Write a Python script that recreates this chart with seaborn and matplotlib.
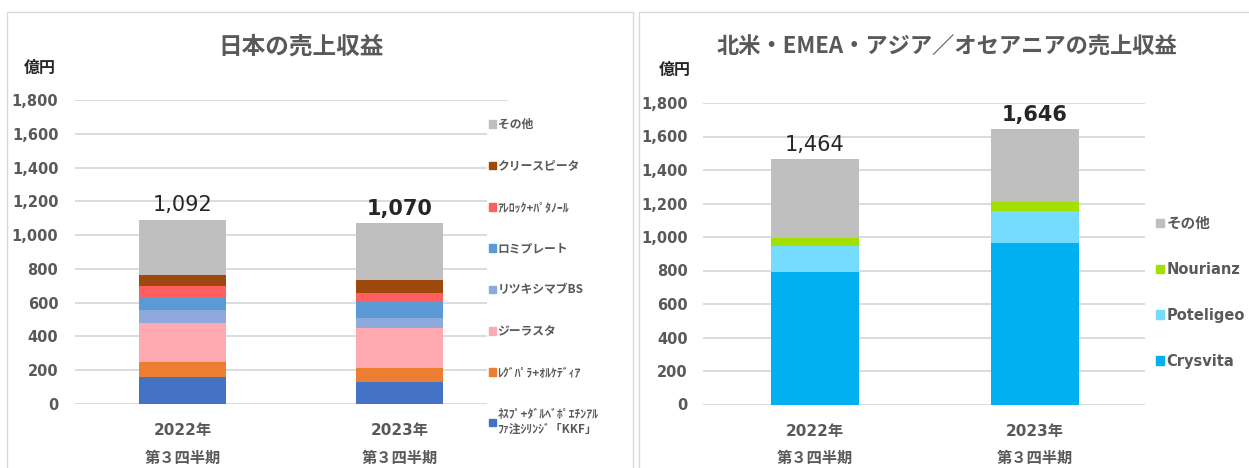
import matplotlib
matplotlib.use("Agg")
import matplotlib.pyplot as plt
import numpy as np
import pandas as pd
import seaborn as sns
from matplotlib.patches import Rectangle, Patch

# data
periods = ["2022年\n第３四半期", "2023年\n第３四半期"]

jp_products = ["ﾈｽﾌﾟ+ﾀﾞﾙﾍﾞﾎﾟｴﾁﾝｱﾙ\nﾌｧ注ｼﾘﾝｼﾞ「KKF」", "ﾚｸﾞﾊﾟﾗ+ｵﾙｹﾃﾞｨｱ", "ジーラスタ",
               "リツキシマブBS", "ロミプレート", "ｱﾚﾛｯｸ+ﾊﾟﾀﾉｰﾙ", "クリースピータ", "その他"]
jp_2022 = [158, 92, 228, 78, 73, 70, 65, 328]
jp_2023 = [128, 87, 237, 59, 91, 57, 75, 336]
jp_totals = [1092, 1070]
jp_colors = ["#4472C4", "#ED7D31", "#FFA9B0", "#8EA9DB", "#5B9BD5", "#FF5F5F", "#9E480E", "#BFBFBF"]

ov_products = ["Crysvita", "Poteligeo", "Nourianz", "その他"]
ov_2022 = [793, 155, 48, 468]
ov_2023 = [962, 193, 56, 435]
ov_totals = [1464, 1646]
ov_colors = ["#00B0F0", "#75DBFF", "#A2E000", "#BFBFBF"]

sns.set_theme(style="white")
plt.rcParams['font.family'] = ['DejaVu Sans', 'Noto Sans CJK JP']
CJK = ['Noto Sans CJK JP', 'DejaVu Sans']
GREY = "#595959"

fig = plt.figure(figsize=(12.49, 4.68), dpi=100)
W, H = 1249.0, 468.0


def px(x0, y0, x1, y1):
    # pixel box -> figure fraction rect
    return [x0 / W, 1 - y1 / H, (x1 - x0) / W, (y1 - y0) / H]


def draw_panel(ax, products, v22, v23, colors, totals, ypad):
    df = pd.DataFrame({"period": np.repeat(periods, len(products)),
                       "product": products * 2,
                       "value": v22 + v23})
    df["top"] = df.groupby("period")["value"].cumsum()
    # tallest first, then smaller ones over it -> stacked look
    for prod, col in reversed(list(zip(products, colors))):
        sns.barplot(data=df[df["product"] == prod], x="period", y="top", order=periods,
                    color=col, width=0.4, saturation=1, errorbar=None, linewidth=0, ax=ax)
    for i, t in enumerate(totals):
        ax.annotate(f"{t:,}", (i, t), xytext=(0, 3), textcoords="offset points",
                    ha="center", va="bottom", fontsize=15, color="#262626",
                    fontweight="bold" if i == 1 else "normal")
    ax.set_ylim(0, 1800)
    ax.set_yticks(range(0, 1801, 200))
    ax.set_yticklabels([f"{v:,}" for v in range(0, 1801, 200)], fontsize=10.5,
                       fontweight="bold", color=GREY)
    ax.set_xticks([0, 1])
    ax.set_xticklabels(periods, fontsize=11, fontweight="bold", color=GREY, linespacing=2.0)
    ax.set_xlabel("")
    ax.set_ylabel("")
    ax.grid(axis="y", color="#D9D9D9", linewidth=1.3)
    ax.set_axisbelow(True)
    for s in ax.spines.values():
        s.set_visible(False)
    ax.tick_params(axis="y", length=0, pad=ypad)
    ax.tick_params(axis="x", length=0, pad=14)


# left panel: Japan
ax1 = fig.add_axes(px(75, 100, 508, 404))
draw_panel(ax1, jp_products, jp_2022, jp_2023, jp_colors, jp_totals, 12)
ax1.set_xlim(-0.495, 1.5)

# right panel: overseas
ax2 = fig.add_axes(px(703, 103, 1145, 404.5))
draw_panel(ax2, ov_products, ov_2022, ov_2023, ov_colors, ov_totals, 11)
ax2.set_xlim(-0.507, 1.502)

# legends
h1 = [Patch(color=c, label=l) for l, c in zip(jp_products, jp_colors)][::-1]
leg1 = fig.legend(handles=h1, loc="upper left", bbox_to_anchor=(481 / W, 1 - 110 / H),
                  frameon=True, facecolor="white", edgecolor="none", framealpha=1,
                  prop={"family": CJK, "weight": "bold", "size": 8.5},
                  handlelength=0.6, handleheight=0.6, handletextpad=0.1,
                  labelspacing=2.4, borderpad=0.2)
for t in leg1.get_texts():
    t.set_color(GREY)

h2 = [Patch(color=c, label=l) for l, c in zip(ov_products, ov_colors)][::-1]
leg2 = fig.legend(handles=h2, loc="upper left", bbox_to_anchor=(1146 / W, 1 - 206 / H),
                  frameon=True, facecolor="white", edgecolor="none", framealpha=1,
                  prop={"weight": "bold", "size": 10.5},
                  handlelength=0.55, handleheight=0.55, handletextpad=0.15,
                  labelspacing=2.12, borderpad=0.2)
for t in leg2.get_texts():
    t.set_color(GREY)

# titles and unit labels
fig.text(301 / W, 1 - 47 / H, "日本の売上収益", ha="center", va="center",
         fontsize=17, family=CJK, fontweight="bold", color=GREY)
fig.text(947 / W, 1 - 47 / H, "北米・EMEA・アジア／オセアニアの売上収益", ha="center", va="center",
         fontsize=16, family=CJK, fontweight="bold", color=GREY)
fig.text(40 / W, 1 - 68 / H, "億円", ha="center", va="center", fontsize=11.5,
         family=CJK, fontweight="bold", color="#262626")
fig.text(675 / W, 1 - 70 / H, "億円", ha="center", va="center", fontsize=11.5,
         family=CJK, fontweight="bold", color="#262626")

# panel frames
fig.patches.append(Rectangle((7 / W, -0.02), 626 / W, (H - 12) / H + 0.02,
                             transform=fig.transFigure, fill=False,
                             edgecolor="#D9D9D9", linewidth=1))
fig.patches.append(Rectangle((639 / W, -0.02), 0.6, (H - 12) / H + 0.02,
                             transform=fig.transFigure, fill=False,
                             edgecolor="#D9D9D9", linewidth=1))

fig.savefig("out.png", dpi=100)
